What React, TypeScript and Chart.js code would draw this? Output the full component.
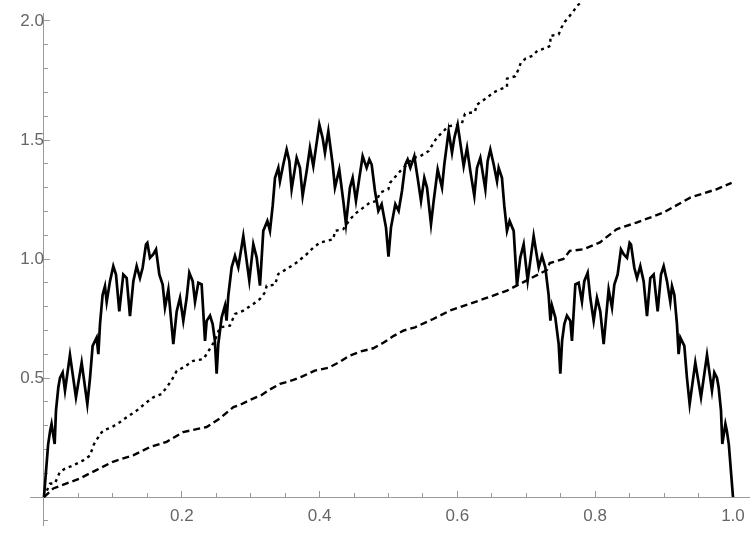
import React, { useEffect, useRef } from "react";
import { Chart, registerables } from "chart.js";

Chart.register(...registerables);

// Solid curve, left half (x, y)
const solidLeft: [number, number][] = [
  [0, 0], [0.003, 0.11], [0.006, 0.22], [0.009, 0.28], [0.011, 0.307], [0.0155, 0.223],
  [0.0174, 0.363], [0.0208, 0.46], [0.0232, 0.5], [0.0271, 0.523], [0.0305, 0.447],
  [0.0377, 0.597], [0.0464, 0.419], [0.0547, 0.565], [0.0629, 0.39], [0.0668, 0.5],
  [0.0706, 0.635], [0.0764, 0.67], [0.0789, 0.6], [0.0813, 0.726], [0.0851, 0.85],
  [0.0885, 0.886], [0.091, 0.82], [0.0958, 0.907], [0.1006, 0.97], [0.1045, 0.935],
  [0.1093, 0.78], [0.1151, 0.935], [0.12, 0.92], [0.1248, 0.76], [0.1297, 0.907],
  [0.1345, 0.97], [0.1393, 0.92], [0.1432, 0.963], [0.148, 1.061], [0.15, 1.068],
  [0.1538, 1.005], [0.1587, 1.02], [0.1626, 1.04], [0.1674, 0.935], [0.1722, 0.893],
  [0.1756, 0.796], [0.1805, 0.872], [0.1877, 0.642], [0.1926, 0.78], [0.1974, 0.837],
  [0.2022, 0.74], [0.2071, 0.837], [0.2109, 0.942], [0.2158, 0.907], [0.2192, 0.82],
  [0.224, 0.9], [0.2288, 0.893], [0.2337, 0.656], [0.2361, 0.74], [0.241, 0.762],
  [0.2448, 0.727], [0.248, 0.657], [0.2506, 0.518], [0.253, 0.643], [0.2579, 0.755],
  [0.2627, 0.804], [0.265, 0.741], [0.2675, 0.846], [0.2724, 0.965], [0.2772, 1.013],
  [0.282, 0.965], [0.2893, 1.097], [0.298, 0.909], [0.3038, 1.062], [0.3087, 1.006],
  [0.3135, 0.888], [0.3183, 1.118], [0.3242, 1.16], [0.328, 1.118], [0.3319, 1.223],
  [0.3353, 1.341], [0.3401, 1.383], [0.3425, 1.327], [0.3473, 1.397], [0.3522, 1.46],
  [0.3561, 1.411], [0.3594, 1.293], [0.3667, 1.425], [0.3715, 1.383], [0.3754, 1.265],
  [0.3812, 1.369], [0.386, 1.467], [0.3909, 1.39], [0.3947, 1.467], [0.3996, 1.565],
  [0.4044, 1.509], [0.4078, 1.446], [0.4127, 1.537], [0.419, 1.397], [0.4223, 1.3],
  [0.4286, 1.376], [0.4344, 1.244], [0.4383, 1.146], [0.4441, 1.3], [0.448, 1.341],
  [0.4528, 1.244], [0.4577, 1.341], [0.4625, 1.432], [0.4683, 1.383], [0.4722, 1.418],
  [0.4756, 1.397], [0.4804, 1.286], [0.4853, 1.202], [0.4901, 1.23], [0.4964, 1.132],
  [0.5, 1.01],
];

// Solid curve, right half (x, y)
const solidRight: [number, number][] = [
  [0.5036, 1.132], [0.5099, 1.23], [0.5147, 1.202], [0.5196, 1.286], [0.5244, 1.397],
  [0.5278, 1.418], [0.5317, 1.383], [0.5375, 1.432], [0.5423, 1.341], [0.5472, 1.244],
  [0.552, 1.341], [0.5559, 1.3], [0.5617, 1.146], [0.5656, 1.244], [0.5714, 1.376],
  [0.5777, 1.3], [0.581, 1.397], [0.5873, 1.537], [0.5922, 1.446], [0.5956, 1.509],
  [0.6004, 1.565], [0.6053, 1.467], [0.6091, 1.39], [0.614, 1.467], [0.6188, 1.369],
  [0.6246, 1.265], [0.6285, 1.383], [0.6333, 1.425], [0.6406, 1.293], [0.6439, 1.411],
  [0.6478, 1.46], [0.6527, 1.397], [0.6575, 1.327], [0.6599, 1.383], [0.6647, 1.341],
  [0.6681, 1.223], [0.672, 1.118], [0.6758, 1.16], [0.6817, 1.118], [0.6865, 0.888],
  [0.6913, 1.006], [0.6962, 1.062], [0.702, 0.909], [0.7107, 1.097], [0.718, 0.965],
  [0.7228, 1.013], [0.7276, 0.965], [0.7325, 0.846], [0.735, 0.741], [0.7373, 0.804],
  [0.7421, 0.755], [0.747, 0.643], [0.7494, 0.518], [0.752, 0.657], [0.7552, 0.727],
  [0.759, 0.762], [0.7639, 0.74], [0.7663, 0.656], [0.7712, 0.893], [0.776, 0.9],
  [0.7808, 0.82], [0.7842, 0.907], [0.7891, 0.942], [0.7929, 0.837], [0.7978, 0.74],
  [0.8026, 0.837], [0.8074, 0.78], [0.8123, 0.642], [0.8195, 0.872], [0.8244, 0.796],
  [0.8278, 0.893], [0.8326, 0.935], [0.8374, 1.04], [0.8413, 1.02], [0.8462, 1.005],
  [0.85, 1.068], [0.852, 1.061], [0.8568, 0.963], [0.8607, 0.92], [0.8655, 0.97],
  [0.8703, 0.907], [0.8752, 0.76], [0.88, 0.92], [0.8849, 0.935], [0.8907, 0.78],
  [0.8955, 0.935], [0.8994, 0.97], [0.9042, 0.907], [0.909, 0.82], [0.9115, 0.886],
  [0.9149, 0.85], [0.9187, 0.726], [0.9211, 0.6], [0.9236, 0.67], [0.9294, 0.635],
  [0.9332, 0.5], [0.9371, 0.39], [0.9453, 0.565], [0.9536, 0.419], [0.9623, 0.597],
  [0.9695, 0.447], [0.9729, 0.523], [0.9768, 0.5], [0.9792, 0.46], [0.9826, 0.363],
  [0.9845, 0.223], [0.989, 0.307], [0.991, 0.28], [0.994, 0.22], [0.997, 0.11], [1.0, 0],
];

// Dotted curve (x, y)
const dottedCurve: [number, number][] = [
  [0, 0], [0.0087, 0.056], [0.016, 0.058], [0.023, 0.105], [0.0305, 0.119], [0.0426, 0.133],
  [0.057, 0.154], [0.0668, 0.174], [0.0716, 0.216], [0.074, 0.23], [0.0837, 0.272],
  [0.0885, 0.283], [0.0982, 0.293], [0.11, 0.314], [0.12, 0.335], [0.1345, 0.363],
  [0.149, 0.398], [0.1587, 0.419], [0.1708, 0.433], [0.178, 0.461], [0.185, 0.489],
  [0.1926, 0.53], [0.2022, 0.544], [0.2167, 0.572], [0.231, 0.579], [0.236, 0.6],
  [0.248, 0.657], [0.2554, 0.713], [0.2699, 0.72], [0.2772, 0.769], [0.2893, 0.783],
  [0.3038, 0.811], [0.3135, 0.832], [0.3208, 0.86], [0.3232, 0.888], [0.3353, 0.892],
  [0.3401, 0.937], [0.3522, 0.958], [0.3667, 0.985], [0.3812, 1.02], [0.3909, 1.048],
  [0.4006, 1.069], [0.4103, 1.076], [0.42, 1.083], [0.4223, 1.118], [0.4344, 1.125],
  [0.4441, 1.167], [0.4538, 1.195], [0.4635, 1.216], [0.4731, 1.237], [0.4828, 1.244],
  [0.4877, 1.279], [0.4998, 1.293], [0.5022, 1.32], [0.517, 1.369], [0.536, 1.425],
  [0.546, 1.432], [0.558, 1.453], [0.57, 1.509], [0.587, 1.558], [0.606, 1.565],
  [0.611, 1.61], [0.6255, 1.618], [0.628, 1.648], [0.6425, 1.677], [0.652, 1.699],
  [0.662, 1.713], [0.672, 1.723], [0.672, 1.758], [0.684, 1.768], [0.688, 1.793],
  [0.692, 1.824], [0.699, 1.842], [0.709, 1.854], [0.716, 1.875], [0.726, 1.884],
  [0.735, 1.896], [0.735, 1.937], [0.747, 1.944], [0.751, 1.972], [0.756, 1.997],
  [0.768, 2.039], [0.774, 2.065], [0.78, 2.078],
];

// Dashed curve (x, y)
const dashedCurve: [number, number][] = [
  [0, 0], [0.0135, 0.036], [0.033, 0.057], [0.052, 0.078], [0.076, 0.113], [0.1, 0.148],
  [0.13, 0.176], [0.154, 0.21], [0.178, 0.232], [0.202, 0.273], [0.236, 0.294],
  [0.255, 0.33], [0.275, 0.378], [0.2845, 0.387], [0.299, 0.408], [0.316, 0.429],
  [0.328, 0.452], [0.3425, 0.475], [0.362, 0.492], [0.376, 0.508], [0.393, 0.531],
  [0.413, 0.543], [0.43, 0.569], [0.442, 0.592], [0.459, 0.611], [0.478, 0.625],
  [0.4925, 0.648], [0.507, 0.676], [0.5215, 0.699], [0.5385, 0.713], [0.565, 0.748],
  [0.589, 0.783], [0.638, 0.832], [0.672, 0.867], [0.686, 0.888], [0.73, 0.954],
  [0.734, 0.983], [0.754, 1.0], [0.763, 1.034], [0.783, 1.041], [0.807, 1.07],
  [0.831, 1.125], [0.86, 1.153], [0.899, 1.195], [0.938, 1.258], [0.976, 1.293],
  [0.998, 1.32],
];

const xMajorTicks = [0.2, 0.4, 0.6, 0.8, 1.0];
const xMinorTicks = [0.05, 0.1, 0.15, 0.25, 0.3, 0.35, 0.45, 0.5, 0.55, 0.65, 0.7, 0.75, 0.85, 0.9, 0.95];
const yMajorTicks = [0.5, 1.0, 1.5, 2.0];
const yMinorTicks = [-0.1, 0.1, 0.2, 0.3, 0.4, 0.6, 0.7, 0.8, 0.9, 1.1, 1.2, 1.3, 1.4, 1.6, 1.7, 1.8, 1.9];

const X_MIN = -0.0203;
const X_MAX = 1.0247;
const Y_MIN = -0.1176;
const Y_MAX = 2.0336;

const AXIS_COLOR = "#9a9a9a";
const LABEL_COLOR = "#666666";
const FONT = { family: "'Liberation Sans', Arial, sans-serif", size: 17 };

// extra canvas margin (outside the visible window) so label padding never shrinks the plot area
const EXTRA = 24;

const toPoints = (arr: [number, number][]) => arr.map(([x, y]) => ({ x, y }));

export default function App() {
  const ref = useRef<HTMLCanvasElement | null>(null);

  useEffect(() => {
    if (!ref.current) return;
    const setTicks = (vals: number[]) => (scale: any) => {
      scale.ticks = vals.map((v) => ({ value: v }));
    };
    const chart = new Chart(ref.current, {
      type: "scatter",
      data: {
        datasets: [
          {
            data: toPoints(dottedCurve),
            showLine: true,
            borderColor: "#000",
            borderWidth: 2.4,
            borderDash: [3, 4],
            pointRadius: 0,
            tension: 0,
            clip: false as any,
          },
          {
            data: toPoints(dashedCurve),
            showLine: true,
            borderColor: "#000",
            borderWidth: 2.4,
            borderDash: [7, 4],
            pointRadius: 0,
            tension: 0,
            clip: false as any,
          },
          {
            data: toPoints([...solidLeft, ...solidRight]),
            showLine: true,
            borderColor: "#000",
            borderWidth: 2.7,
            pointRadius: 0,
            tension: 0,
            borderJoinStyle: "miter",
            clip: false as any,
          },
        ],
      },
      options: {
        animation: false,
        responsive: false,
        devicePixelRatio: 1,
        layout: { padding: { top: 13 + EXTRA, bottom: 9 + EXTRA, left: 30, right: EXTRA } },
        plugins: { legend: { display: false }, tooltip: { enabled: false } },
        scales: {
          x: {
            type: "linear",
            min: X_MIN,
            max: X_MAX,
            position: { y: 0 } as any,
            afterBuildTicks: setTicks(xMajorTicks),
            ticks: {
              callback: (v: any) => Number(v).toFixed(1),
              color: LABEL_COLOR,
              font: FONT,
              padding: 16,
              maxRotation: 0,
              autoSkip: false,
            },
            grid: { display: true, drawOnChartArea: false, drawTicks: true, tickLength: -7, tickColor: AXIS_COLOR, tickWidth: 1 },
            border: { display: true, color: AXIS_COLOR, width: 1 },
          },
          xm: {
            type: "linear",
            axis: "x",
            min: X_MIN,
            max: X_MAX,
            position: { y: 0 } as any,
            afterBuildTicks: setTicks(xMinorTicks),
            ticks: { display: false },
            grid: { display: true, drawOnChartArea: false, drawTicks: true, tickLength: -4, tickColor: AXIS_COLOR, tickWidth: 1 },
            border: { display: false },
          },
          y: {
            type: "linear",
            min: Y_MIN,
            max: Y_MAX,
            position: { x: 0 } as any,
            afterBuildTicks: setTicks(yMajorTicks),
            ticks: {
              callback: (v: any) => Number(v).toFixed(1),
              color: LABEL_COLOR,
              font: FONT,
              padding: 13,
              autoSkip: false,
            },
            grid: { display: true, drawOnChartArea: false, drawTicks: true, tickLength: -7, tickColor: AXIS_COLOR, tickWidth: 1 },
            border: { display: true, color: AXIS_COLOR, width: 1 },
          },
          ym: {
            type: "linear",
            axis: "y",
            min: Y_MIN,
            max: Y_MAX,
            position: { x: 0 } as any,
            afterBuildTicks: setTicks(yMinorTicks),
            ticks: { display: false },
            grid: { display: true, drawOnChartArea: false, drawTicks: true, tickLength: -4, tickColor: AXIS_COLOR, tickWidth: 1 },
            border: { display: false },
          },
        } as any,
      },
    } as any);
    return () => chart.destroy();
  }, []);

  return (
    <div style={{ position: "fixed", left: 0, top: 0, width: 750, height: 534, overflow: "hidden", background: "#fff" }}>
      <canvas
        ref={ref}
        width={750 + EXTRA}
        height={534 + 2 * EXTRA}
        style={{ display: "block", position: "absolute", left: 0, top: -EXTRA, width: 750 + EXTRA, height: 534 + 2 * EXTRA }}
      />
    </div>
  );
}
